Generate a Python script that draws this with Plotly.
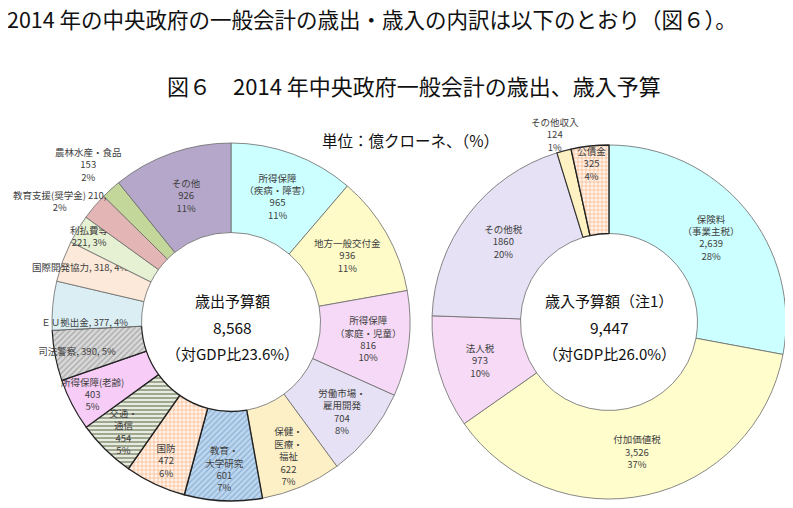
import plotly.graph_objects as go

# 歳出（億クローネ）: 12時の位置から時計回り
exp_names = ["所得保障<br>（疾病・障害）", "地方一般交付金", "所得保障<br>（家庭・児童）",
             "労働市場・<br>雇用開発", "保健・<br>医療・<br>福祉", "教育・<br>大学研究", "国防",
             "交通・<br>通信", "所得保障(老齢)", "司法警察", "ＥＵ拠出金", "国際開発協力",
             "利払費等", "教育支援(奨学金)", "農林水産・食品", "その他"]
exp_values = [965, 936, 816, 704, 622, 601, 472, 454, 403, 390, 377, 318, 221, 210, 153, 926]
exp_pct = [11, 11, 10, 8, 7, 7, 6, 5, 5, 5, 4, 4, 3, 2, 2, 11]

# 歳入（億クローネ）
rev_names = ["保険料<br>（事業主税）", "付加価値税", "法人税", "その他税", "その他収入", "公債金"]
rev_values = [2639, 3526, 973, 1860, 124, 325]
rev_pct = [28, 37, 10, 20, 1, 4]

exp_total = "8,568"
rev_total = "9,447"
exp_gdp = "23.6%"
rev_gdp = "26.0%"

# ラベルの組み方
exp_sep1 = ["<br>"] * 9 + [", ", ", ", ", ", "<br>", " ", "<br>", "<br>"]
exp_sep2 = ["<br>"] * 9 + [", ", ", ", ", ", ", ", ",<br>", "<br>", "<br>"]
exp_outside = [13, 14]
rev_fmt = ["{:,}", "{:,}", "{}", "{}", "{}", "{}"]
rev_outside = [4]

exp_colors = ["#CCFFFF", "#FFFBC8", "#F6D9F6", "#E6E1F4", "#FDF0C6", "#BDD7EE", "#FFF3EA",
              "#E8EBDF", "#F7CDF7", "#D9D9D9", "#DAEEF3", "#FDE9D9", "#E6F0D2", "#E3B6B5",
              "#C4D79B", "#B4A7C9"]
exp_pattern = ["", "", "", "", "", "/", "+", "-", "", "/", "", "", "", "", "", ""]
exp_pfg = ["#000"] * 5 + ["#8DB0D6", "#F4B183", "#6E7A5A", "#000", "#A6A6A6"] + ["#000"] * 6
exp_lw = [0.8] * 5 + [1.4, 1.4, 1.4, 1.2, 1.2] + [0.8] * 6
exp_lc = ["#6A6A6A"] * 5 + ["#222222"] * 5 + ["#6A6A6A"] * 6

rev_colors = ["#CCFFFF", "#FFFDCC", "#F6DAF6", "#E6E1F4", "#FFF2C2", "#FFF3EA"]
rev_pattern = ["", "", "", "", "", "+"]
rev_pfg = ["#000", "#000", "#000", "#000", "#000", "#F4B183"]
rev_lw = [0.8, 0.8, 0.8, 0.8, 1.2, 1.4]
rev_lc = ["#6A6A6A", "#6A6A6A", "#6A6A6A", "#6A6A6A", "#333333", "#222222"]

FONT = "Noto Sans CJK JP"
LBL = 9.5
OFF = 8  # ページ余白の分
W, H = 793 - OFF, 508 - OFF

exp_label_text = [f"{n}{s1}{v}{s2}{p}%" for n, v, p, s1, s2
                  in zip(exp_names, exp_values, exp_pct, exp_sep1, exp_sep2)]
rev_label_text = [f"{n}<br>{f.format(v)}<br>{p}%" for n, v, p, f
                  in zip(rev_names, rev_values, rev_pct, rev_fmt)]

exp_text = ["" if i in exp_outside else t for i, t in enumerate(exp_label_text)]
rev_text = ["" if i in rev_outside else t for i, t in enumerate(rev_label_text)]


def px_x(x):
    return (x - OFF) / W


def px_y(y):
    return 1 - (y - OFF) / H


fig = go.Figure()

fig.add_trace(go.Pie(
    values=exp_values,
    labels=[n.replace("<br>", "") for n in exp_names],
    text=exp_text,
    textinfo="text",
    textposition="inside",
    insidetextorientation="horizontal",
    sort=False,
    direction="clockwise",
    rotation=0,
    hole=0.5,
    domain=dict(x=[px_x(52), px_x(410)], y=[px_y(501), px_y(143)]),
    marker=dict(colors=exp_colors,
                line=dict(color=exp_lc, width=exp_lw),
                pattern=dict(shape=exp_pattern, fgcolor=exp_pfg, bgcolor=exp_colors,
                             size=4, solidity=0.3)),
    textfont=dict(size=LBL, color="#404040", family=FONT),
    hoverinfo="label+value",
    showlegend=False,
))

fig.add_trace(go.Pie(
    values=rev_values,
    labels=[n.replace("<br>", "") for n in rev_names],
    text=rev_text,
    textinfo="text",
    textposition="inside",
    insidetextorientation="horizontal",
    sort=False,
    direction="clockwise",
    rotation=0,
    hole=0.5,
    domain=dict(x=[px_x(432), px_x(786)], y=[px_y(499), px_y(145)]),
    marker=dict(colors=rev_colors,
                line=dict(color=rev_lc, width=rev_lw),
                pattern=dict(shape=rev_pattern, fgcolor=rev_pfg, bgcolor=rev_colors,
                             size=4, solidity=0.3)),
    textfont=dict(size=LBL, color="#404040", family=FONT),
    hoverinfo="label+value",
    showlegend=False,
))

annotations = [
    dict(x=px_x(5), y=px_y(18), xanchor="left",
         text="2014 年の中央政府の一般会計の歳出・歳入の内訳は以下のとおり（図６）。",
         font=dict(size=21.5, color="#111111", family=FONT)),
    dict(x=px_x(414), y=px_y(85),
         text="図６　2014 年中央政府一般会計の歳出、歳入予算",
         font=dict(size=22, color="#111111", family=FONT)),
    dict(x=px_x(410), y=px_y(140),
         text="単位：億クローネ、（%）",
         font=dict(size=15.5, color="#111111", family=FONT)),
    # 中央の合計
    dict(x=px_x(232), y=px_y(300), text="歳出予算額", font=dict(size=15, color="#111111", family=FONT)),
    dict(x=px_x(232), y=px_y(327), text=exp_total, font=dict(size=15.5, color="#111111", family=FONT)),
    dict(x=px_x(232), y=px_y(353), text=f"（対GDP比{exp_gdp}）", font=dict(size=15, color="#111111", family=FONT)),
    dict(x=px_x(609), y=px_y(300), text="歳入予算額（注1）", font=dict(size=15, color="#111111", family=FONT)),
    dict(x=px_x(609), y=px_y(327), text=rev_total, font=dict(size=15.5, color="#111111", family=FONT)),
    dict(x=px_x(609), y=px_y(353), text=f"（対GDP比{rev_gdp}）", font=dict(size=15, color="#111111", family=FONT)),
]

# 円の外に出したラベル
out_pos = {("exp", 13): (60, 201), ("exp", 14): (88, 164), ("rev", 4): (555, 134)}
for (side, i), (x, y) in out_pos.items():
    t = exp_label_text[i] if side == "exp" else rev_label_text[i]
    annotations.append(dict(x=px_x(x), y=px_y(y), text=t, align="center",
                            font=dict(size=LBL, color="#404040", family=FONT)))

for a in annotations:
    a.setdefault("xanchor", "center")
    a.update(xref="paper", yref="paper", yanchor="middle", showarrow=False)

fig.update_layout(
    width=W, height=H,
    margin=dict(l=0, r=0, t=0, b=0),
    paper_bgcolor="white",
    plot_bgcolor="white",
    uniformtext=dict(minsize=LBL, mode="show"),
    annotations=annotations,
)

fig.write_html("out.html")
